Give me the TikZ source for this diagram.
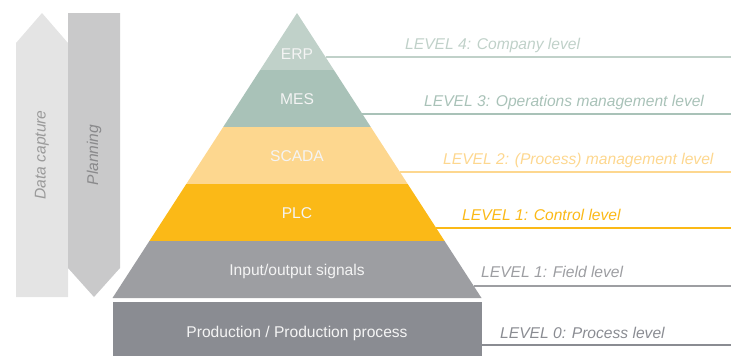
\documentclass[tikz,border=0pt]{standalone}
\usepackage{fontspec}
\setmainfont{Liberation Sans}
\definecolor{dcap}{HTML}{E4E4E4}
\definecolor{plan}{HTML}{C9C9CA}
\definecolor{dcaptext}{HTML}{9A9A9A}
\definecolor{plantext}{HTML}{8A8A8C}
\definecolor{erp}{HTML}{C0D1C9}
\definecolor{mes}{HTML}{A9C2B8}
\definecolor{scada}{HTML}{FDD78F}
\definecolor{plc}{HTML}{FBB917}
\definecolor{io}{HTML}{9D9EA2}
\definecolor{prod}{HTML}{8A8C92}
\definecolor{boxtext}{HTML}{F4F4F4}
\begin{document}
\begin{tikzpicture}[x=1pt,y=-1pt,
  lvl/.style={font=\fontsize{15.6}{18}\selectfont\itshape, anchor=base west, inner sep=0pt},
  box/.style={font=\fontsize{15.6}{18}\selectfont, text=boxtext, anchor=base, inner sep=0pt},
  side/.style={font=\fontsize{15.6}{18}\selectfont\itshape, rotate=90, inner sep=0pt},
  conn/.style={line width=1.4pt}]
\useasboundingbox (0,0) rectangle (731,356);
% side arrows
\fill[dcap] (16,43) -- (42,13) -- (68,43) -- (68,297) -- (16,297) -- cycle;
\fill[plan] (68,13) -- (120,13) -- (120,268) -- (94,297) -- (68,268) -- cycle;
\node[side, text=dcaptext] (dc) at (42,155) {Data capture};
\node[side, text=plantext] (pl) at (94,155) {Planning};
% pyramid
\coordinate (apex) at (297,13);
\coordinate (l1) at (260.1,70);  \coordinate (r1) at (333.9,70);
\coordinate (l2) at (223.2,127); \coordinate (r2) at (370.8,127);
\coordinate (l3) at (186.3,184); \coordinate (r3) at (407.7,184);
\coordinate (l4) at (149.4,241); \coordinate (r4) at (444.6,241);
\coordinate (l5) at (112.5,298); \coordinate (r5) at (481.5,298);
\fill[erp] (apex) -- (r1) -- (l1) -- cycle;
\fill[mes] (l1) -- (r1) -- (r2) -- (l2) -- cycle;
\fill[scada] (l2) -- (r2) -- (r3) -- (l3) -- cycle;
\fill[plc] (l3) -- (r3) -- (r4) -- (l4) -- cycle;
\fill[io] (l4) -- (r4) -- (r5) -- (l5) -- cycle;
\fill[prod] (112.5,302) rectangle (481.5,356);
\node[box] (terp) at (297,59) {ERP};
\node[box] (tmes) at (297,104) {MES};
\node[box] (tscada) at (297,161) {SCADA};
\node[box] (tplc) at (297,218) {PLC};
\node[box] (tio) at (297,275) {Input/output signals};
\node[box] (tprod) at (297,337.5) {Production / Production process};
% level lines
\coordinate (s4) at (325.5,57);  \coordinate (e4) at (731,57);
\coordinate (s3) at (362.4,114); \coordinate (e3) at (731,114);
\coordinate (s2) at (399.9,172); \coordinate (e2) at (731,172);
\coordinate (s1) at (436.2,228); \coordinate (e1) at (731,228);
\coordinate (sf) at (473.7,286); \coordinate (ef) at (731,286);
\coordinate (s0) at (481.5,345); \coordinate (e0) at (731,345);
\draw[conn, erp] (s4) -- (e4);
\draw[conn, mes] (s3) -- (e3);
\draw[conn, scada] (s2) -- (e2);
\draw[conn, plc] (s1) -- (e1);
\draw[conn, io] (sf) -- (ef);
\draw[conn, prod] (s0) -- (e0);
\node[lvl, text=erp] (lv4) at (405,49) {LEVEL 4: Company level};
\node[lvl, text=mes] (lv3) at (424,106) {LEVEL 3: Operations management level};
\node[lvl, text=scada] (lv2) at (443,164) {LEVEL 2: (Process) management level};
\node[lvl, text=plc] (lv1) at (462,220) {LEVEL 1: Control level};
\node[lvl, text=io] (lvf) at (481,277) {LEVEL 1: Field level};
\node[lvl, text=prod] (lv0) at (500,338) {LEVEL 0: Process level};
\end{tikzpicture}
\end{document}
